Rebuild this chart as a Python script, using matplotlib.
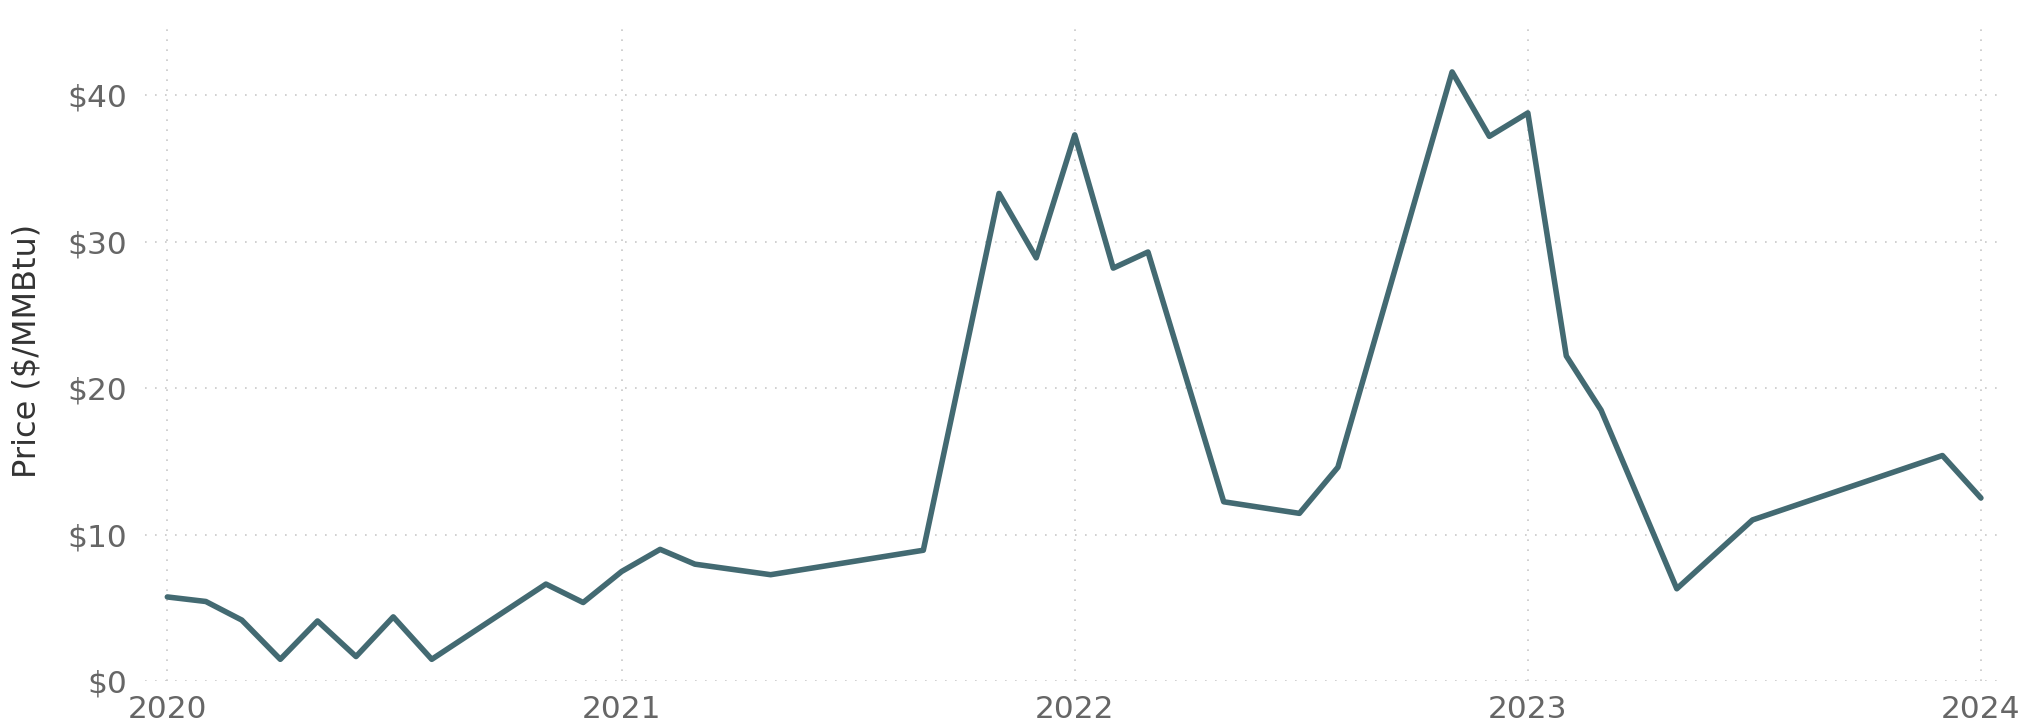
import matplotlib.pyplot as plt
import pandas as pd

months = ["2020-01", "2020-02", "2020-03", "2020-04", "2020-05", "2020-06",
          "2020-07", "2020-08", "2020-11", "2020-12", "2021-01", "2021-02",
          "2021-03", "2021-05", "2021-09", "2021-11", "2021-12", "2022-01",
          "2022-02", "2022-03", "2022-05", "2022-07", "2022-08", "2022-11",
          "2022-12", "2023-01", "2023-02", "2023-03", "2023-05", "2023-07",
          "2023-12", "2024-01"]
price = [5.74, 5.43, 4.16, 1.48, 4.10, 1.67, 4.38, 1.48, 6.62, 5.36, 7.48, 8.99,
         7.98, 7.26, 8.93, 33.3, 28.9, 37.3, 28.2, 29.3, 12.24, 11.45, 14.6, 41.6,
         37.2, 38.8, 22.2, 18.5, 6.3, 11.0, 15.4, 12.5]
yticks = [0, 10, 20, 30, 40]
ytick_labels = ["$0", "$10", "$20", "$30", "$40"]
years = ["2020", "2021", "2022", "2023", "2024"]

dates = pd.to_datetime(months)
year_dates = pd.to_datetime([y + "-01-01" for y in years])

fig = plt.figure(figsize=(20.25, 7.23), dpi=100)
ax = fig.add_axes([0.0716, 0.0581, 0.9146, 0.9133])

ax.plot(dates, price, color="#436a72", lw=4, solid_joinstyle="round",
        solid_capstyle="round")

ax.set_xlim(pd.Timestamp("2019-12-14"), pd.Timestamp("2024-01-14"))
ax.set_ylim(0, 45.1)
ax.set_xticks(year_dates)
ax.set_xticklabels(years)
ax.set_yticks(yticks)
ax.set_yticklabels(ytick_labels)

# dotted light grid
ax.grid(True, color="#c8c8c8", lw=1.2, linestyle=(0, (1, 5)))
ax.set_axisbelow(True)
for s in ax.spines.values():
    s.set_visible(False)
ax.tick_params(axis="both", length=0, labelsize=22.5, labelcolor="#666666")
ax.tick_params(axis="x", pad=10)
ax.tick_params(axis="y", pad=13)
fig.text(27 / 2025, 0.5145, "Price ($/MMBtu)", rotation=90, fontsize=23,
         color="#333333", ha="center", va="center")

fig.savefig("out.png", dpi=100)
